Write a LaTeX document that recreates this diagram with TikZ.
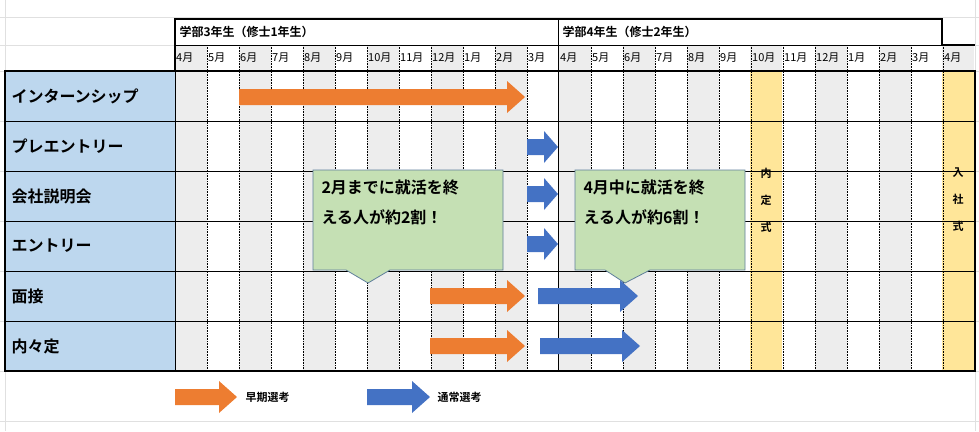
\documentclass[tikz,border=0pt]{standalone}
\usepackage{fontspec}
\setmainfont{Noto Sans CJK JP}
\newfontfamily\jb{Noto Sans CJK JP Bold}
\definecolor{gcol}{HTML}{EDEDED}
\definecolor{lbl}{HTML}{BDD7EE}
\definecolor{yel}{HTML}{FFE699}
\definecolor{org}{HTML}{ED7D31}
\definecolor{blu}{HTML}{4472C4}
\definecolor{grn}{HTML}{C5E0B4}
\definecolor{gbd}{HTML}{5F7F9B}
\newcommand\barr[5]{% x1 x2 y color headlen
  \fill[#4] (#1,#3-8) -- (#2-#5,#3-8) -- (#2-#5,#3-16) -- (#2,#3) -- (#2-#5,#3+16) -- (#2-#5,#3+8) -- (#1,#3+8) -- cycle;}
\begin{document}
\begin{tikzpicture}[x=1pt,y=-1pt,
  mon/.style={font=\fontsize{11}{11}\selectfont,anchor=west,inner sep=1pt},
  rowlbl/.style={font=\jb\fontsize{16}{16}\selectfont,anchor=west},
  call/.style={font=\jb\fontsize{16}{30}\selectfont,align=left,anchor=north west}]
\useasboundingbox (0,0) rectangle (979,431);
% faint sheet grid
\foreach \y in {17,45,71,121,171,221,271,321,371,421}{\draw[black!12,line width=0.5pt] (0,\y) -- (979,\y);}
\foreach \x in {5,975}{\draw[black!12,line width=0.5pt] (\x,0) -- (\x,431);}
% shaded columns
\foreach \i in {0,2,...,10}{\fill[gcol] (175+\i*32,45) rectangle (207+\i*32,371);}
\foreach \i in {12,14,16,20,22}{\fill[gcol] (175+\i*32,45) rectangle (207+\i*32,371);}
\fill[yel] (750,45) rectangle (782,371);
\fill[yel] (942,45) rectangle (974,371);
\fill[gcol] (750,45) rectangle (782,71);
\fill[gcol] (942,45) rectangle (974,71);
\fill[white] (175,19) rectangle (942,45);
% label column
\fill[lbl] (5,71) rectangle (175,371);
% dotted verticals
\foreach \i in {1,...,11,13,14,...,24}{\draw[densely dotted,line width=0.6pt] (175+\i*32,45) -- (175+\i*32,371);}
% row lines
\foreach \y in {121,171,221,271,321}{\draw[line width=0.6pt] (5,\y) -- (975,\y);}
\draw[line width=0.6pt] (175,45) -- (975,45);
\draw[line width=0.8pt] (558,19) -- (558,371);
\draw[line width=0.8pt] (175,71) -- (175,371);
% thick borders
\draw[line width=1.6pt] (175,71) -- (175,19) -- (942,19) -- (942,45) -- (975,45);
\draw[line width=1.6pt] (5,71) rectangle (975,371);
% header texts
\node[font=\jb\fontsize{12}{12}\selectfont,anchor=west] (y1) at (176,32) {学部3年生（修士1年生）};
\node[font=\jb\fontsize{12}{12}\selectfont,anchor=west] (y2) at (559,32) {学部4年生（修士2年生）};
\foreach \m [count=\i from 0] in {4,5,6,7,8,9,10,11,12,1,2,3,4,5,6,7,8,9,10,11,12,1,2,3,4}{
  \node[mon] (m\i) at (175+\i*32,58) {\m 月};}
% row labels
\foreach \t [count=\i from 0] in {インターンシップ,プレエントリー,会社説明会,エントリー,面接,内々定}{
  \node[rowlbl] (r\i) at (8,96+\i*50) {\t};}
% vertical texts
\node[font=\jb\fontsize{11}{27}\selectfont,align=center] (naitei) at (766,200) {内\\定\\式};
\node[font=\jb\fontsize{11}{27}\selectfont,align=center] (nyusha) at (958,200) {入\\社\\式};
% arrows
\barr{239}{525}{97}{org}{18}
\barr{527}{558}{147}{blu}{14}
\barr{527}{558}{194}{blu}{14}
\barr{527}{558}{244}{blu}{14}
\barr{430}{525}{296}{org}{18}
\barr{538}{638}{296}{blu}{18}
\barr{430}{525}{346}{org}{18}
\barr{540}{640}{346}{blu}{18}
% callouts
\draw[gbd,fill=grn,line width=0.8pt] (313,170) -- (503,170) -- (503,270) -- (390,270) -- (368,283) -- (346,270) -- (313,270) -- cycle;
\draw[gbd,fill=grn,line width=0.8pt] (575,170) -- (745,170) -- (745,270) -- (650,270) -- (625,283) -- (605,270) -- (575,270) -- cycle;
\node[call] (c1) at (318,176) {2月までに就活を終\\える人が約2割！};
\node[call] (c2) at (580,176) {4月中に就活を終\\える人が約6割！};
% legend
\barr{175}{237}{397}{org}{18}
\node[font=\jb\fontsize{11}{11}\selectfont,anchor=west] (l1) at (242,397) {早期選考};
\barr{367}{430}{397}{blu}{18}
\node[font=\jb\fontsize{11}{11}\selectfont,anchor=west] (l2) at (434,397) {通常選考};
\end{tikzpicture}
\end{document}
